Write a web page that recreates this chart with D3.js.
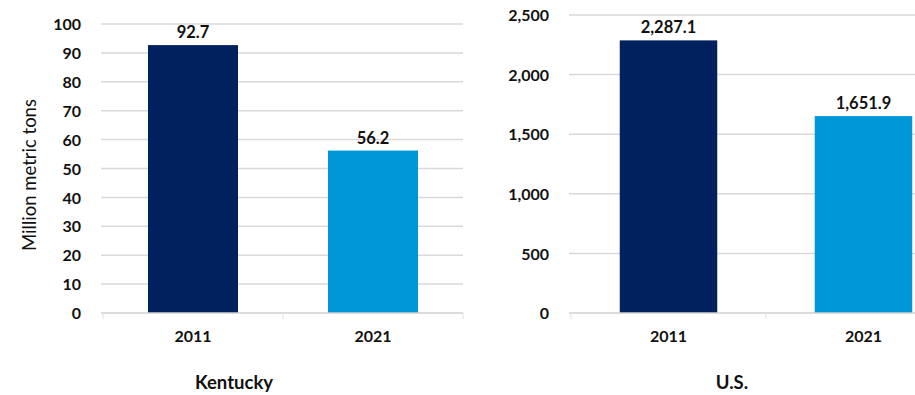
<!DOCTYPE html>
<html>
<head>
<meta charset="utf-8">
<script src="https://cdn.jsdelivr.net/npm/d3@7"></script>
<style>
  body { margin: 0; background: #fff; }
  svg text { font-family: Lato, "Open Sans", sans-serif; fill: #111; }
  .tick text { font-size: 16px; font-weight: bold; }
  .valueLabel { font-size: 16.5px; font-weight: bold; }
  .chartTitle { font-size: 18.5px; font-weight: bold; }
  .axisTitle { font-size: 18.5px; }
</style>
</head>
<body>
<svg id="chart" width="915" height="395"></svg>
<script>
'use strict'

const years = ['2011', '2021']
const kentucky = [92.7, 56.2]
const us = [2287.1, 1651.9]
const kyTicks = [0, 10, 20, 30, 40, 50, 60, 70, 80, 90, 100]
const usTicks = [0, 500, 1000, 1500, 2000, 2500]
const barColors = ['#01205e', '#0097d6']

const svg = d3.select('#chart')

// draws one panel: gridlines, bars, value labels, axes
function drawPanel(opts) {
  const x = d3.scaleBand().domain(years).range([opts.left, opts.right])
    .paddingInner(0.5).paddingOuter(0.25)
  const y = d3.scaleLinear().domain([0, opts.max]).range([313, opts.top])
  const g = svg.append('g')

  // gridlines
  g.selectAll('.grid')
    .data(opts.ticks.filter(d => d > 0))
    .enter().append('line')
      .attr('x1', opts.left - 2).attr('x2', opts.right)
      .attr('y1', d => y(d)).attr('y2', d => y(d))
      .attr('stroke', '#d9d9d9').attr('stroke-width', 1.5)

  // bars
  g.selectAll('rect')
    .data(opts.values)
    .enter().append('rect')
      .attr('x', (d, i) => x(years[i]))
      .attr('y', d => y(d))
      .attr('width', x.bandwidth())
      .attr('height', d => y(0) - y(d))
      .attr('fill', (d, i) => barColors[i])

  // value labels above the bars
  g.selectAll('.valueLabel')
    .data(opts.values)
    .enter().append('text')
      .classed('valueLabel', true)
      .attr('x', (d, i) => x(years[i]) + x.bandwidth() / 2)
      .attr('y', d => y(d) - 7)
      .attr('text-anchor', 'middle')
      .text(d => opts.fmt(d))

  // y axis (labels only)
  const yAxis = g.append('g')
    .attr('transform', 'translate(' + (opts.left - 19) + ',0)')
    .call(d3.axisLeft(y).tickValues(opts.ticks).tickSize(0).tickFormat(opts.tickFmt))
  yAxis.select('.domain').remove()
  yAxis.selectAll('text').attr('dy', '0.35em')

  // x baseline with small ticks between the categories
  g.append('line')
    .attr('x1', opts.left - 2).attr('x2', opts.right)
    .attr('y1', y(0)).attr('y2', y(0))
    .attr('stroke', '#d0d0d0').attr('stroke-width', 1.5)
  const step = x.step()
  g.selectAll('.xtick')
    .data([0, 1, 2])
    .enter().append('line')
      .attr('x1', i => opts.left + i * step).attr('x2', i => opts.left + i * step)
      .attr('y1', y(0)).attr('y2', y(0) + 6)
      .attr('stroke', '#e0e0e0').attr('stroke-width', 1)

  const xAxis = g.append('g')
    .attr('transform', 'translate(0,' + y(0) + ')')
    .call(d3.axisBottom(x).tickSize(0))
  xAxis.select('.domain').remove()
  xAxis.selectAll('text').attr('dy', '1.65em')

  g.append('text')
    .classed('chartTitle', true)
    .attr('x', opts.titleX).attr('y', 389)
    .attr('text-anchor', 'middle')
    .text(opts.title)
  return g
}

drawPanel({
  left: 103, right: 463, top: 24, max: 100,
  values: kentucky, ticks: kyTicks,
  fmt: d3.format('.1f'), tickFmt: d3.format('d'),
  title: 'Kentucky', titleX: 234
})

drawPanel({
  left: 571, right: 961, top: 15, max: 2500,
  values: us, ticks: usTicks,
  fmt: d3.format(',.1f'), tickFmt: d3.format(','),
  title: 'U.S.', titleX: 732
})

// y axis title of the left panel
svg.append('text')
  .classed('axisTitle', true)
  .attr('transform', 'translate(36,175) rotate(-90)')
  .attr('text-anchor', 'middle')
  .text('Million metric tons')
</script>
</body>
</html>
